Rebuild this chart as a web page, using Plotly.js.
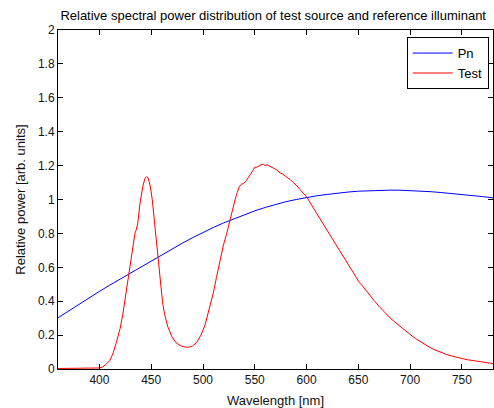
<!DOCTYPE html>
<html>
<head>
<meta charset="utf-8">
<script src="https://cdn.plot.ly/plotly-3.0.1.min.js"></script>
<style>html,body{margin:0;padding:0;background:#fff;}#chart{width:494px;height:408px;}</style>
</head>
<body>
<div id="chart"></div>
<script>
// Reference (Pn) spectrum
const pnWavelength = [360,370,380,390,400,410,420,430,440,450,460,470,480,490,500,510,520,530,540,550,560,570,580,590,600,610,620,630,640,650,660,670,680,690,700,710,720,730,740,750,760,770,780];
const pnPower = [0.302,0.342,0.381,0.420,0.458,0.495,0.531,0.567,0.603,0.638,0.673,0.707,0.742,0.775,0.806,0.835,0.862,0.887,0.911,0.933,0.953,0.971,0.987,1.000,1.012,1.022,1.030,1.038,1.044,1.049,1.052,1.054,1.055,1.055,1.053,1.050,1.046,1.041,1.036,1.030,1.024,1.017,1.010];

// Test source spectrum
const testWavelength = [360,370,380,390,395,400,403,406,410,413,416,420,422.5,424.7,428,431.2,434.3,435.5,437,439.2,442,444,445.5,447,449,451,453,455,457,459,461,463,466,470,474,478,482,486,490,494,498,502,506,510,513,516.4,519.7,522.9,526,528.5,531,533,535,537,539,541,543.8,546,548,550.3,552,554,556,558.3,560,562,564.8,567,569,571,574.4,577,580,584.1,587,590,593.7,597,600.8,603,606,609.9,612,615,618,621,624,627,630,633,636,639,642,645,648,651,654,657,660,665,670,675,680,685,690,695,700,705,710,715,720,725,730,735,740,745,750,755,760,765,770,775,780];
const testPower = [0.003,0.003,0.003,0.004,0.004,0.006,0.012,0.025,0.05,0.09,0.15,0.24,0.32,0.41,0.54,0.65,0.80,0.82,0.86,0.98,1.08,1.125,1.135,1.128,1.08,1.00,0.87,0.76,0.64,0.50,0.39,0.32,0.25,0.19,0.155,0.138,0.13,0.128,0.136,0.157,0.2,0.26,0.35,0.45,0.54,0.646,0.73,0.80,0.88,0.94,1.0,1.04,1.075,1.09,1.095,1.105,1.128,1.15,1.17,1.192,1.19,1.2,1.205,1.208,1.20,1.205,1.196,1.19,1.185,1.175,1.157,1.15,1.135,1.118,1.10,1.085,1.059,1.035,1.01,0.985,0.955,0.92,0.895,0.865,0.835,0.81,0.78,0.75,0.715,0.685,0.655,0.625,0.595,0.565,0.54,0.51,0.49,0.465,0.44,0.405,0.37,0.335,0.305,0.278,0.252,0.227,0.204,0.18,0.16,0.14,0.124,0.11,0.097,0.086,0.077,0.068,0.062,0.055,0.05,0.045,0.04,0.036,0.032];

const seriesNames = ['Pn','Test'];
const chartTitle = 'Relative spectral power distribution of test source and reference illuminant';
const xLabel = 'Wavelength [nm]';
const yLabel = 'Relative power [arb. units]';
const xTicks = [400,450,500,550,600,650,700,750];
const yTicks = [0,0.2,0.4,0.6,0.8,1,1.2,1.4,1.6,1.8,2];

const fam = 'Liberation Sans, Arial, sans-serif';
const tickFont = {family: fam, size: 12, color: '#111'};
const labelFont = {family: fam, size: 13, color: '#111'};

const traces = [
  {x: pnWavelength, y: pnPower, name: seriesNames[0], mode: 'lines', line: {color: '#0000ff', width: 1}},
  {x: testWavelength, y: testPower, name: seriesNames[1], mode: 'lines', line: {color: '#ff0000', width: 1}}
];

const axisCommon = {
  showgrid: false, zeroline: false, showline: true, linecolor: '#000', linewidth: 1,
  mirror: 'ticks', ticks: 'inside', ticklen: 5, tickcolor: '#000', tickwidth: 1,
  tickfont: tickFont
};

const layout = {
  width: 494, height: 408,
  margin: {l: 58, r: 1, t: 30, b: 39},
  paper_bgcolor: '#fff', plot_bgcolor: '#fff',
  font: labelFont,
  title: {text: chartTitle, font: {family: fam, size: 13, color: '#000'}, x: 0.553, xanchor: 'center', y: 0.963, yanchor: 'middle'},
  xaxis: Object.assign({}, axisCommon, {range: [360, 780], tickvals: xTicks,
    title: {text: xLabel, font: labelFont, standoff: 9}}),
  yaxis: Object.assign({}, axisCommon, {range: [0, 2], tickvals: yTicks, ticktext: yTicks.map(String),
    title: {text: yLabel, font: labelFont, standoff: 9}}),
  legend: {x: 0.99, xanchor: 'right', y: 0.979, yanchor: 'top', bgcolor: '#fff', bordercolor: '#000', borderwidth: 1,
    font: {family: fam, size: 13, color: '#000'}, tracegroupgap: 0, itemwidth: 40},
  showlegend: true
};

Plotly.newPlot('chart', traces, layout, {staticPlot: true, displayModeBar: false});
</script>
</body>
</html>
